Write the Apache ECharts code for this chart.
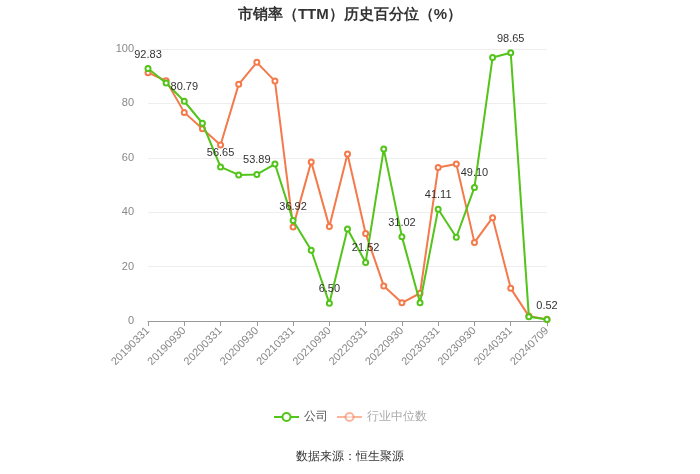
<!DOCTYPE html>
<html>
<head>
<meta charset="utf-8">
<script src="https://cdn.jsdelivr.net/npm/echarts@6/dist/echarts.min.js"></script>
<style>
  html, body { margin: 0; padding: 0; background: #fff; }
  #chart { width: 700px; height: 474px; }
</style>
</head>
<body>
<div id="chart"></div>
<script>
  const dates = ['20190331', '20190630', '20190930', '20191231', '20200331', '20200630', '20200930', '20201231',
    '20210331', '20210630', '20210930', '20211231', '20220331', '20220630', '20220930', '20221231',
    '20230331', '20230630', '20230930', '20231231', '20240331', '20240630', '20240709']
  const company = [92.83, 87.5, 80.79, 72.7, 56.65, 53.7, 53.89, 57.7, 36.92, 26.0, 6.50, 33.8,
    21.52, 63.2, 31.02, 6.7, 41.11, 30.8, 49.10, 96.9, 98.65, 1.6, 0.52]
  const industry = [91.3, 88.3, 76.7, 70.7, 64.7, 87.0, 95.1, 88.2, 34.6, 58.5, 34.7, 61.4,
    32.2, 12.9, 6.7, 10.2, 56.4, 57.7, 28.9, 38.0, 12.0, 1.8, 0.6]
  const yTicks = [0, 20, 40, 60, 80, 100]

  const chart = echarts.init(document.getElementById('chart'))
  chart.setOption({
    title: {
      text: '市销率（TTM）历史百分位（%）',
      left: 'center',
      top: 2,
      textStyle: { fontSize: 15, fontWeight: 'bold', color: '#333' }
    },
    legend: {
      data: [
        { name: '公司' },
        { name: '行业中位数', textStyle: { color: '#aaa' }, itemStyle: { opacity: 0.55 }, lineStyle: { opacity: 0.55 } }
      ],
      bottom: 46,
      itemWidth: 25,
      itemHeight: 10,
      textStyle: { fontSize: 12, color: '#555' }
    },
    graphic: [{
      type: 'text',
      left: 'center',
      top: 451,
      style: { text: '数据来源：恒生聚源', fontSize: 12, fill: '#333' }
    }],
    grid: { left: 148, right: 153, top: 49, bottom: 153 },
    xAxis: {
      type: 'category',
      data: dates,
      boundaryGap: false,
      axisLine: { lineStyle: { color: '#999' } },
      axisTick: { interval: 1, lineStyle: { color: '#999' } },
      axisLabel: { interval: 1, rotate: 45, fontSize: 11, color: '#888' }
    },
    yAxis: {
      type: 'value',
      min: yTicks[0],
      max: yTicks[yTicks.length - 1],
      interval: 20,
      axisLine: { show: false },
      axisTick: { show: false },
      axisLabel: { fontSize: 11, color: '#888', margin: 14 },
      splitLine: { lineStyle: { color: '#eee' } }
    },
    series: [
      {
        name: '公司',
        type: 'line',
        data: company,
        symbol: 'emptyCircle',
        symbolSize: 5,
        color: '#52c41a',
        lineStyle: { width: 2 },
        label: {
          show: true,
          position: 'top',
          fontSize: 11,
          color: '#333',
          formatter: p => (p.dataIndex % 2 === 0 ? p.value.toFixed(2) : '')
        },
        z: 3
      },
      {
        name: '行业中位数',
        type: 'line',
        data: industry,
        symbol: 'emptyCircle',
        symbolSize: 5,
        color: '#f47a4b',
        lineStyle: { width: 2 },
        z: 2
      }
    ]
  })
</script>
</body>
</html>
